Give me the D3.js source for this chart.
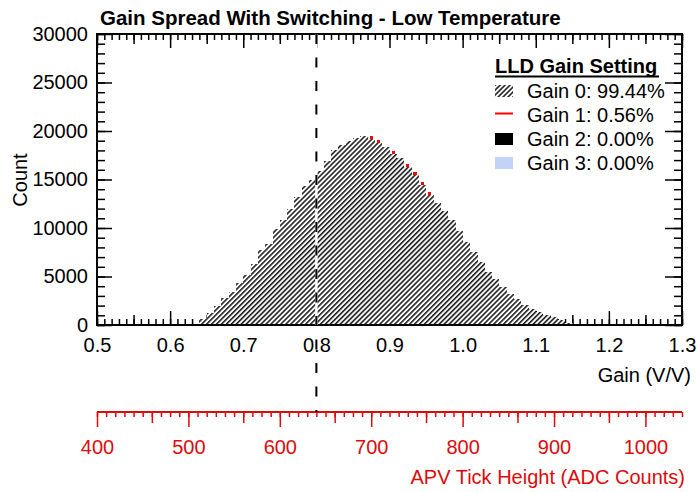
<!DOCTYPE html>
<html><head><meta charset="utf-8">
<script src="https://cdn.jsdelivr.net/npm/d3@7"></script>
<style>
body{margin:0;background:#fff}
svg{display:block}
text{font-family:Arial,"Liberation Sans",Helvetica,sans-serif}
</style>
</head><body>
<svg id="chart" width="697" height="492"></svg>
<script>
// ---------- data ----------
const binWidth = 0.01;
const binCenters = [0.635,0.645,0.655,0.665,0.675,0.685,0.695,0.705,0.715,0.725,
  0.735,0.745,0.755,0.765,0.775,0.785,0.795,0.805,0.815,0.825,
  0.835,0.845,0.855,0.865,0.875,0.885,0.895,0.905,0.915,0.925,
  0.935,0.945,0.955,0.965,0.975,0.985,0.995,1.005,1.015,1.025,
  1.035,1.045,1.055,1.065,1.075,1.085,1.095,1.105,1.115,1.125,
  1.135,1.145];
const gain0Counts = [150,600,1200,2000,2800,3400,4300,5200,6300,7700,
  8400,9900,10800,12000,13200,14300,15000,15900,16900,18000,
  18600,19000,19300,19500,19200,18800,18400,17600,17200,16300,
  15500,14400,13400,12600,11800,10800,9700,8600,7500,6500,
  5500,4700,3900,3200,2650,2100,1700,1350,1050,800,
  500,250];
const gain1Counts = [0,0,0,0,0,0,0,0,0,0,
  0,0,0,0,0,0,0,0,0,0,
  0,0,0,0,300,300,0,300,0,300,
  300,300,300,0,0,0,0,0,0,0,
  0,0,0,0,0,0,0,0,0,0,
  0,0];
const gain2Counts = [0,0,0,0,0,0,0,0,0,0,0,0,0,0,0,0,0,0,0,0,0,0,0,0,0,0,
  0,0,0,0,0,0,0,0,0,0,0,0,0,0,0,0,0,0,0,0,0,0,0,0,0,0];
const gain3Counts = [0,0,0,0,0,0,0,0,0,0,0,0,0,0,0,0,0,0,0,0,0,0,0,0,0,0,
  0,0,0,0,0,0,0,0,0,0,0,0,0,0,0,0,0,0,0,0,0,0,0,0,0,0];
const legendLabels = ["Gain 0: 99.44%","Gain 1: 0.56%","Gain 2: 0.00%","Gain 3: 0.00%"];
const legendTitle = "LLD Gain Setting";
const xMajorTicks = [0.5,0.6,0.7,0.8,0.9,1.0,1.1,1.2,1.3];
const xTickLabels = ["0.5","0.6","0.7","0.8","0.9","1.0","1.1","1.2","1.3"];
const yMajorTicks = [0,5000,10000,15000,20000,25000,30000];
const adcMajorTicks = [400,500,600,700,800,900,1000];
const thresholdGain = 0.8;
const titleText = "Gain Spread With Switching - Low Temperature";

// ---------- layout ----------
const L = 97, R = 682, T = 34, B = 325, ADCY = 412;
const svg = d3.select("#chart");
const x = d3.scaleLinear([0.5,1.3],[L,R]);
const y = d3.scaleLinear([0,30000],[B,T]);
const adc = d3.scaleLinear([400,1040],[L,R]);

const defs = svg.append("defs");
const pat = defs.append("pattern").attr("id","hatch").attr("patternUnits","userSpaceOnUse")
  .attr("width",3.5).attr("height",3.5).attr("patternTransform","rotate(45)");
pat.append("rect").attr("width",3.5).attr("height",3.5).attr("fill","#fff");
pat.append("line").attr("x1",0.8).attr("y1",0).attr("x2",0.8).attr("y2",3.5)
  .attr("stroke","#000").attr("stroke-width",1.4);

const rng = (a,b,s) => d3.range(a, b + s/2, s).map(v => +v.toFixed(6));
const xMinor = rng(0.5,1.3,0.01);
const xMed = rng(0.55,1.25,0.1);
const yMinor = rng(0,30000,1000);
const adcMinor = rng(400,1040,10);
const adcMed = rng(460,1040,100);

function styleAxis(g, color){
  g.select(".domain").remove();
  g.selectAll(".tick line").attr("stroke",color).attr("stroke-width",1.5);
  g.selectAll(".tick text").attr("fill",color).attr("font-size",20);
}

// ticks (behind histogram)
function xAxisSet(gen, ty){
  [[xMinor,6],[xMed,10],[xMajorTicks,14]].forEach(([vals,len])=>{
    const g = svg.append("g").attr("transform",`translate(0,${ty})`)
      .call(gen(x).tickValues(vals).tickSize(-len).tickFormat(""));
    styleAxis(g,"#000");
  });
}
xAxisSet(d3.axisBottom, B);
xAxisSet(d3.axisTop, T);
[[d3.axisLeft,L,15],[d3.axisRight,R,17]].forEach(([gen,tx,major])=>{
  styleAxis(svg.append("g").attr("transform",`translate(${tx},0)`)
    .call(gen(y).tickValues(yMinor).tickSize(-8).tickFormat("")),"#000");
  styleAxis(svg.append("g").attr("transform",`translate(${tx},0)`)
    .call(gen(y).tickValues(yMajorTicks).tickSize(-major).tickFormat("")),"#000");
});

// histogram
const bw = x(binWidth) - x(0);
const bars = svg.append("g").attr("shape-rendering","crispEdges");
bars.selectAll("rect.g0").data(binCenters).join("rect").attr("class","g0")
  .attr("x",d=>x(d - binWidth/2)).attr("width",bw+0.3)
  .attr("y",(d,i)=>y(gain0Counts[i])).attr("height",(d,i)=>B - y(gain0Counts[i]))
  .attr("fill","url(#hatch)");
bars.selectAll("rect.g1").data(binCenters).join("rect").attr("class","g1")
  .attr("x",d=>x(d - binWidth/2)+2).attr("width",bw-4)
  .attr("y",(d,i)=>y(gain0Counts[i]+gain1Counts[i]))
  .attr("height",(d,i)=>y(gain0Counts[i]) - y(gain0Counts[i]+gain1Counts[i]))
  .attr("fill","#ff0000");
bars.selectAll("rect.g2").data(binCenters).join("rect").attr("class","g2")
  .attr("x",d=>x(d - binWidth/2)).attr("width",bw)
  .attr("y",(d,i)=>y(gain0Counts[i]+gain1Counts[i]+gain2Counts[i]))
  .attr("height",(d,i)=>y(gain0Counts[i]+gain1Counts[i]) - y(gain0Counts[i]+gain1Counts[i]+gain2Counts[i]))
  .attr("fill","#000");
bars.selectAll("rect.g3").data(binCenters).join("rect").attr("class","g3")
  .attr("x",d=>x(d - binWidth/2)).attr("width",bw)
  .attr("y",(d,i)=>y(gain0Counts[i]+gain1Counts[i]+gain2Counts[i]+gain3Counts[i]))
  .attr("height",(d,i)=>y(gain0Counts[i]+gain1Counts[i]+gain2Counts[i]) - y(gain0Counts[i]+gain1Counts[i]+gain2Counts[i]+gain3Counts[i]))
  .attr("fill","#c3d3f7");

// frame
svg.append("rect").attr("x",L).attr("y",T).attr("width",R-L).attr("height",B-T)
  .attr("fill","none").attr("stroke","#000").attr("stroke-width",2);

// tick labels
const xl = svg.append("g").attr("transform",`translate(0,${B})`)
  .call(d3.axisBottom(x).tickValues(xMajorTicks).tickSize(0).tickPadding(13)
    .tickFormat((d,i)=>xTickLabels[i]));
styleAxis(xl,"#000");
const yl = svg.append("g").attr("transform",`translate(${L},0)`)
  .call(d3.axisLeft(y).tickValues(yMajorTicks).tickSize(0).tickPadding(9).tickFormat(d3.format("d")));
styleAxis(yl,"#000");

// axis titles
svg.append("text").attr("transform","translate(27,180) rotate(-90)")
  .attr("x",0).attr("y",0).attr("text-anchor","middle").attr("font-size",20).text("Count");
svg.append("text").attr("x",691).attr("y",382).attr("text-anchor","end").attr("font-size",20).text("Gain (V/V)");
svg.append("text").attr("x",100).attr("y",25).attr("font-size",20.5).attr("font-weight","bold").text(titleText);

// ADC axis
const red = "#dd0a0a";
[[adcMinor,5],[adcMed,11]].forEach(([vals,len])=>{
  styleAxis(svg.append("g").attr("transform",`translate(0,${ADCY})`)
    .call(d3.axisBottom(adc).tickValues(vals).tickSize(len).tickFormat("")),red);
});
styleAxis(svg.append("g").attr("transform",`translate(0,${ADCY})`)
  .call(d3.axisBottom(adc).tickValues(adcMajorTicks).tickSize(15).tickPadding(13).tickFormat(d3.format("d"))),red);
svg.append("line").attr("x1",L).attr("x2",R).attr("y1",ADCY).attr("y2",ADCY)
  .attr("stroke",red).attr("stroke-width",2);
svg.append("text").attr("x",685).attr("y",484).attr("text-anchor","end").attr("font-size",20)
  .attr("fill",red).text("APV Tick Height (ADC Counts)");

// threshold dashed line
const tx = x(thresholdGain);
svg.append("line").attr("x1",tx).attr("x2",tx).attr("y1",T).attr("y2",B)
  .attr("stroke","#fff").attr("stroke-width",2.5);
svg.append("line").attr("x1",tx).attr("x2",tx).attr("y1",T).attr("y2",ADCY)
  .attr("stroke","#000").attr("stroke-width",2).attr("stroke-dasharray","10,13.5");

// legend
const lg = svg.append("g");
lg.append("text").attr("x",495).attr("y",73).attr("font-size",20).attr("font-weight","bold").text(legendTitle);
lg.append("line").attr("x1",495).attr("x2",659).attr("y1",76.5).attr("y2",76.5).attr("stroke","#000").attr("stroke-width",2);
const rows = [97.5,121.5,145.5,169.5];
legendLabels.forEach((lab,i)=>{
  lg.append("text").attr("x",527).attr("y",rows[i]).attr("font-size",20).text(lab);
});
lg.append("rect").attr("x",495).attr("y",85).attr("width",18).attr("height",12).attr("fill","url(#hatch)");
lg.append("line").attr("x1",495).attr("x2",513).attr("y1",113.5).attr("y2",113.5).attr("stroke","#ff0000").attr("stroke-width",2);
lg.append("rect").attr("x",495).attr("y",133).attr("width",18).attr("height",12).attr("fill","#000");
lg.append("rect").attr("x",495).attr("y",157).attr("width",18).attr("height",12).attr("fill","#c3d3f7");
</script>
</body></html>
